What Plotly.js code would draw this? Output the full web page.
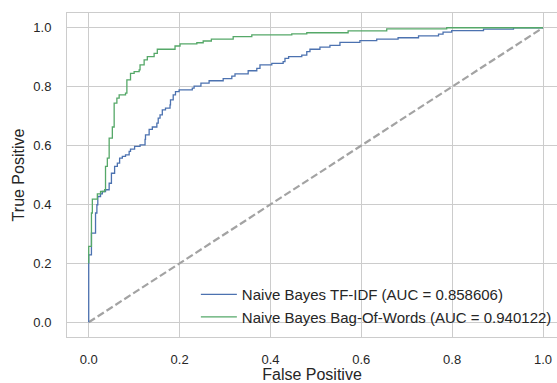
<!DOCTYPE html>
<html>
<head>
<meta charset="utf-8">
<script src="https://cdn.plot.ly/plotly-3.0.1.min.js"></script>
<style>html,body{margin:0;padding:0;background:#fff;}#chart{width:557px;height:383px;}</style>
</head>
<body>
<div id="chart"></div>
<script>
// False positive / true positive points of the two ROC curves (step corners)
const tfidfFpr = [0, 0, 0.006, 0.015, 0.018, 0.020, 0.026, 0.030, 0.037, 0.045, 0.050, 0.057, 0.063, 0.068, 0.074, 0.081, 0.089, 0.092, 0.101, 0.113, 0.124, 0.125, 0.133, 0.140, 0.150, 0.153, 0.157, 0.162, 0.169, 0.179, 0.180, 0.186, 0.191, 0.199, 0.228, 0.232, 0.247, 0.265, 0.296, 0.315, 0.322, 0.351, 0.370, 0.377, 0.403, 0.428, 0.432, 0.440, 0.469, 0.480, 0.487, 0.509, 0.531, 0.553, 0.597, 0.634, 0.681, 0.726, 0.770, 0.780, 0.799, 0.869, 0.935, 1.0];
const tfidfTpr = [0, 0.229, 0.303, 0.371, 0.399, 0.427, 0.436, 0.444, 0.450, 0.472, 0.506, 0.529, 0.540, 0.557, 0.563, 0.568, 0.580, 0.588, 0.597, 0.602, 0.621, 0.636, 0.655, 0.663, 0.676, 0.693, 0.704, 0.721, 0.727, 0.738, 0.755, 0.772, 0.783, 0.789, 0.795, 0.802, 0.812, 0.820, 0.827, 0.836, 0.843, 0.854, 0.862, 0.874, 0.879, 0.885, 0.896, 0.902, 0.907, 0.919, 0.927, 0.934, 0.940, 0.950, 0.956, 0.961, 0.966, 0.972, 0.978, 0.985, 0.990, 0.995, 1.0, 1.0];
const bowFpr = [0, 0, 0.006, 0.008, 0.019, 0.026, 0.035, 0.037, 0.041, 0.045, 0.052, 0.056, 0.062, 0.067, 0.081, 0.084, 0.092, 0.100, 0.111, 0.113, 0.122, 0.129, 0.144, 0.151, 0.190, 0.201, 0.238, 0.252, 0.270, 0.318, 0.359, 0.447, 0.480, 0.571, 0.656, 0.788, 1.0];
const bowTpr = [0.2, 0.258, 0.371, 0.418, 0.436, 0.444, 0.450, 0.529, 0.557, 0.625, 0.663, 0.744, 0.761, 0.772, 0.778, 0.823, 0.845, 0.851, 0.857, 0.874, 0.891, 0.902, 0.913, 0.927, 0.938, 0.945, 0.949, 0.955, 0.961, 0.970, 0.976, 0.979, 0.983, 0.989, 0.996, 1.0, 1.0];
const chanceX = [0, 1];
const chanceY = [0, 1];
const names = ['Naive Bayes TF-IDF (AUC = 0.858606)', 'Naive Bayes Bag-Of-Words (AUC = 0.940122)'];
const tickVals = [0, 0.2, 0.4, 0.6, 0.8, 1.0];
const tickText = ['0.0', '0.2', '0.4', '0.6', '0.8', '1.0'];

const font = 'Liberation Sans, Arial, sans-serif';
const traces = [
  {x: chanceX, y: chanceY, mode: 'lines', showlegend: false, hoverinfo: 'skip',
   line: {color: '#a3a3a3', width: 2.2, dash: '7.4px,3.2px'}},
  {x: tfidfFpr, y: tfidfTpr, mode: 'lines', name: names[0],
   line: {color: '#4C72B0', width: 1.3, shape: 'hv'}},
  {x: bowFpr, y: bowTpr, mode: 'lines', name: names[1],
   line: {color: '#55A868', width: 1.3, shape: 'hv'}}
];
const axisCommon = {
  showgrid: true, gridcolor: '#cccccc', gridwidth: 1, zeroline: false,
  showline: true, linecolor: '#cccccc', linewidth: 1,
  ticks: '', tickfont: {family: font, size: 13, color: '#262626'},
  tickvals: tickVals, ticktext: tickText
};
const layout = {
  width: 557, height: 383,
  margin: {l: 67, r: 0, t: 13, b: 46, pad: 0},
  paper_bgcolor: '#ffffff', plot_bgcolor: '#ffffff',
  showlegend: true,
  legend: {x: 0.263, y: 0.182, xanchor: 'left', yanchor: 'top', bgcolor: 'rgba(0,0,0,0)',
           itemwidth: 36,
           font: {family: font, size: 15, color: '#262626'}, tracegroupgap: 0},
  xaxis: Object.assign({}, axisCommon, {range: [-0.0478, 1.0308], mirror: true, ticklabelstandoff: 10,
           title: {text: 'False Positive', font: {family: font, size: 16, color: '#262626'}, standoff: 4}}),
  yaxis: Object.assign({}, axisCommon, {range: [-0.05, 1.05], mirror: false, ticklabelstandoff: 12,
           title: {text: 'True Positive', font: {family: font, size: 16, color: '#262626'}, standoff: 4}})
};
Plotly.newPlot('chart', traces, layout, {displayModeBar: false, staticPlot: true});
</script>
</body>
</html>
